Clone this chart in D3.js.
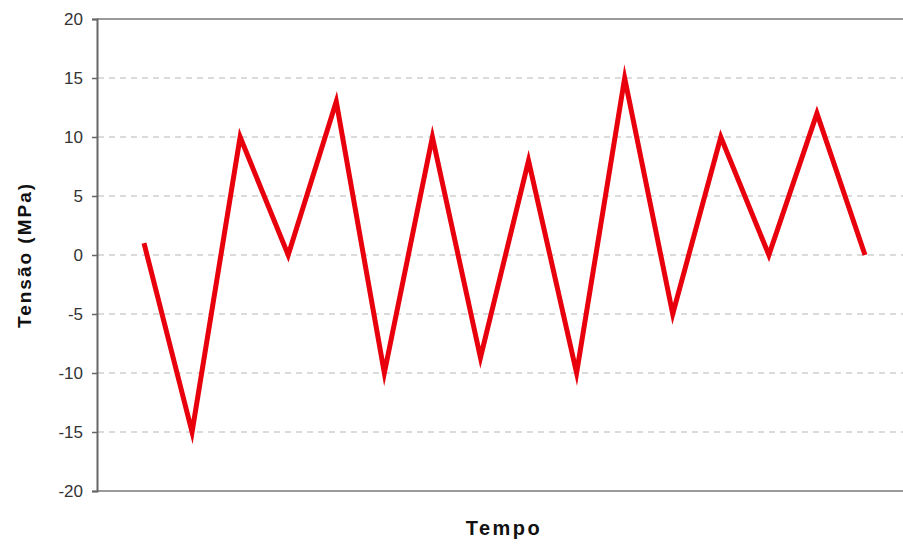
<!DOCTYPE html>
<html>
<head>
<meta charset="utf-8">
<script src="https://cdn.jsdelivr.net/npm/d3@7"></script>
<style>
  html, body { margin: 0; padding: 0; background: #fff; }
  svg { display: block; }
</style>
</head>
<body>
<svg id="chart" width="903" height="544"></svg>
<script>
// Data
const steps = [1, 2, 3, 4, 5, 6, 7, 8, 9, 10, 11, 12, 13, 14, 15, 16];
const tensao = [1, -15, 10, 0, 13, -10, 10, -8.7, 8, -10, 15, -5, 10, 0, 12, 0];
const yTicks = [-20, -15, -10, -5, 0, 5, 10, 15, 20];
const yTitle = "Tensão (MPa)";
const xTitle = "Tempo";

const svg = d3.select("#chart");
const mLeft = 97, mRight = 903, mTop = 19, mBottom = 491;

const x = d3.scaleLinear().domain([1, 16]).range([144, 865]);
const y = d3.scaleLinear().domain([-20, 20]).range([mBottom, mTop]);

// gridlines
svg.append("g").selectAll("line")
  .data(yTicks.filter(t => t > -20 && t < 20))
  .join("line")
  .attr("x1", mLeft + 1).attr("x2", mRight)
  .attr("y1", d => y(d)).attr("y2", d => y(d))
  .attr("stroke", "#b8b8b8").attr("stroke-width", 1.2)
  .attr("stroke-dasharray", "6,5");

// top and bottom border lines
svg.append("line").attr("x1", mLeft).attr("x2", mRight)
  .attr("y1", mTop).attr("y2", mTop)
  .attr("stroke", "#9a9a9a").attr("stroke-width", 2);
svg.append("line").attr("x1", mLeft).attr("x2", mRight)
  .attr("y1", mBottom).attr("y2", mBottom)
  .attr("stroke", "#9a9a9a").attr("stroke-width", 2);

// y axis
const yAxis = d3.axisLeft(y).tickValues(yTicks).tickSize(5).tickPadding(9)
  .tickFormat(d => String(d));
const gy = svg.append("g").attr("transform", `translate(${mLeft},0)`).call(yAxis);
gy.select(".domain").attr("stroke", "#666").attr("stroke-width", 2);
gy.selectAll(".tick line").attr("stroke", "#666").attr("stroke-width", 1.5);
gy.selectAll(".tick text")
  .attr("fill", "#333")
  .style("font-family", "Arial, 'Liberation Sans', sans-serif")
  .style("font-size", "17px");

// line
const line = d3.line().x((d, i) => x(steps[i])).y(d => y(d));
svg.append("path")
  .datum(tensao)
  .attr("d", line)
  .attr("fill", "none")
  .attr("stroke", "#e8000c")
  .attr("stroke-width", 5)
  .attr("stroke-linejoin", "miter")
  .attr("stroke-miterlimit", 10);

// titles
svg.append("text")
  .attr("transform", `translate(26,${(mTop + mBottom) / 2}) rotate(-90)`)
  .attr("text-anchor", "middle")
  .attr("dominant-baseline", "middle")
  .style("font-family", "Arial, 'Liberation Sans', sans-serif")
  .style("font-weight", "bold")
  .style("font-size", "19px")
  .style("letter-spacing", "2px")
  .attr("fill", "#111")
  .text(yTitle);

svg.append("text")
  .attr("x", 504).attr("y", 535)
  .attr("text-anchor", "middle")
  .style("font-family", "Arial, 'Liberation Sans', sans-serif")
  .style("font-weight", "bold")
  .style("font-size", "20px")
  .style("letter-spacing", "2.5px")
  .attr("fill", "#111")
  .text(xTitle);
</script>
</body>
</html>
